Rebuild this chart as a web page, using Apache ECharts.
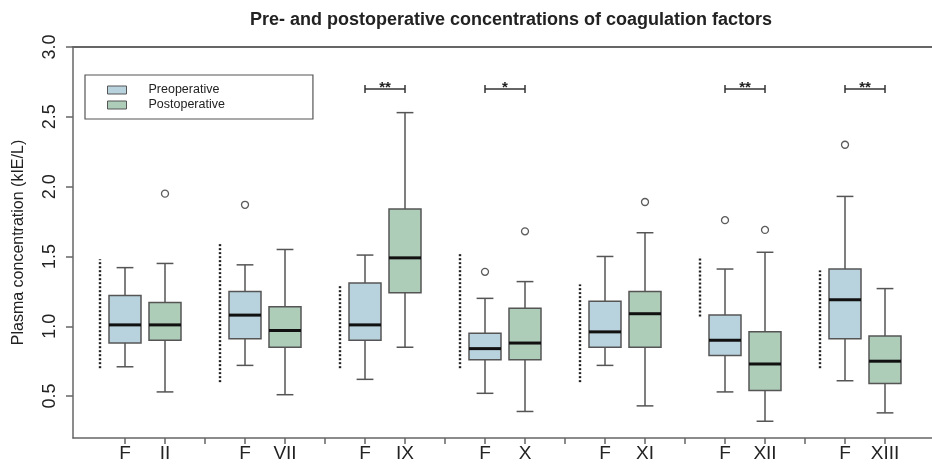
<!DOCTYPE html>
<html>
<head>
<meta charset="utf-8">
<script src="https://cdn.jsdelivr.net/npm/echarts@6/dist/echarts.min.js"></script>
<style>
  html, body { margin: 0; padding: 0; background: #fff; }
  #chart { width: 932px; height: 468px; }
</style>
</head>
<body>
<div id="chart"></div>
<script>
// factor names (second box of every pair; the first one is always "F")
const groupLabels = ['II', 'VII', 'IX', 'X', 'XI', 'XII', 'XIII'];

// [lower whisker, Q1, median, Q3, upper whisker]
const preStats = [
    [0.71, 0.88, 1.01, 1.22, 1.42],
    [0.72, 0.91, 1.08, 1.25, 1.44],
    [0.62, 0.90, 1.01, 1.31, 1.51],
    [0.52, 0.76, 0.84, 0.95, 1.20],
    [0.72, 0.85, 0.96, 1.18, 1.50],
    [0.53, 0.79, 0.90, 1.08, 1.41],
    [0.61, 0.91, 1.19, 1.41, 1.93]
];
const postStats = [
    [0.53, 0.90, 1.01, 1.17, 1.45],
    [0.51, 0.85, 0.97, 1.14, 1.55],
    [0.85, 1.24, 1.49, 1.84, 2.53],
    [0.39, 0.76, 0.88, 1.13, 1.32],
    [0.43, 0.85, 1.09, 1.25, 1.67],
    [0.32, 0.54, 0.73, 0.96, 1.53],
    [0.38, 0.59, 0.75, 0.93, 1.27]
];

// outliers: [group index, value]
const preOutliers = [[1, 1.87], [3, 1.39], [5, 1.76], [6, 2.30]];
const postOutliers = [[0, 1.95], [3, 1.68], [4, 1.89], [5, 1.69]];

// reference range (dotted line left of each pair): [low, high]
const refRanges = [
    [0.70, 1.48], [0.60, 1.60], [0.70, 1.30], [0.70, 1.52],
    [0.60, 1.30], [1.07, 1.50], [0.70, 1.40]
];

// significance markers: group index + label
const sigGroups = [2, 3, 5, 6];
const sigLabels = ['**', '*', '**', '**'];
const sigLevel = 2.7;

const yTicks = [0.5, 1.0, 1.5, 2.0, 2.5, 3.0];

const FONT = '"Liberation Sans", Arial, Helvetica, sans-serif';
const preColor = '#b8d3de';
const postColor = '#aecdb9';
const lineColor = '#555';
const axisColor = '#666';

// position of a box on the x axis: 3 slots per group (F, factor, separator)
const prePos = g => 3 * g;
const postPos = g => 3 * g + 1;

const xTicks = [];
const xLabelPos = [];
groupLabels.forEach((l, g) => {
    xTicks.push(prePos(g), postPos(g));
    xLabelPos.push(prePos(g), postPos(g));
    if (g < groupLabels.length - 1) xTicks.push(3 * g + 2);
});

const preData = preStats.map((s, g) => [prePos(g)].concat(s));
const postData = postStats.map((s, g) => [postPos(g)].concat(s));

function renderBox(params, api) {
    const x = api.value(0);
    const lo = api.coord([x, api.value(1)]);
    const q1 = api.coord([x, api.value(2)]);
    const md = api.coord([x, api.value(3)]);
    const q3 = api.coord([x, api.value(4)]);
    const hi = api.coord([x, api.value(5)]);
    const half = api.size([0.8, 0])[0] / 2;
    const cap = api.size([0.42, 0])[0] / 2;
    const color = api.visual('color');
    const lineStyle = { stroke: lineColor, lineWidth: 1.5 };
    return {
        type: 'group',
        children: [
            { type: 'line', shape: { x1: lo[0], y1: lo[1], x2: q1[0], y2: q1[1] }, style: lineStyle },
            { type: 'line', shape: { x1: q3[0], y1: q3[1], x2: hi[0], y2: hi[1] }, style: lineStyle },
            { type: 'line', shape: { x1: lo[0] - cap, y1: lo[1], x2: lo[0] + cap, y2: lo[1] }, style: lineStyle },
            { type: 'line', shape: { x1: hi[0] - cap, y1: hi[1], x2: hi[0] + cap, y2: hi[1] }, style: lineStyle },
            {
                type: 'rect',
                shape: { x: q3[0] - half, y: q3[1], width: half * 2, height: q1[1] - q3[1] },
                style: { fill: color, stroke: lineColor, lineWidth: 1.5 }
            },
            { type: 'line', shape: { x1: md[0] - half, y1: md[1], x2: md[0] + half, y2: md[1] }, style: { stroke: '#111', lineWidth: 3 } }
        ]
    };
}

let myChart = echarts.init(document.getElementById('chart'));
let option;

option = {
    animation: false,
    title: {
        text: 'Pre- and postoperative concentrations of coagulation factors',
        left: 506,
        textAlign: 'center',
        top: 6,
        textStyle: { fontFamily: FONT, fontSize: 18, fontWeight: 'bold', color: '#222' }
    },
    legend: {
        left: 85,
        top: 75,
        orient: 'vertical',
        data: [
            { name: 'Preoperative', itemStyle: { color: preColor, borderColor: lineColor, borderWidth: 1 } },
            { name: 'Postoperative', itemStyle: { color: postColor, borderColor: lineColor, borderWidth: 1 } }
        ],
        icon: 'rect',
        itemWidth: 19,
        itemHeight: 8,
        itemGap: 1,
        padding: [8, 88, 7, 22],
        borderColor: lineColor,
        borderWidth: 1.2,
        selectedMode: false,
        textStyle: { fontFamily: FONT, fontSize: 12.5, color: '#222', padding: [0, 0, 0, 17], lineHeight: 14 }
    },
    grid: { left: 73, right: 0, top: 47, bottom: 30 },
    xAxis: [
        {
            type: 'value',
            min: -1.3,
            max: 20.175,
            position: 'bottom',
            axisLine: { onZero: false, lineStyle: { color: axisColor, width: 1.5 } },
            axisTick: { customValues: xTicks, length: 6, lineStyle: { color: axisColor, width: 1.5 } },
            axisLabel: {
                customValues: xLabelPos,
                margin: 6,
                fontFamily: FONT,
                fontSize: 19,
                color: '#222',
                formatter: v => {
                    const i = Math.round(v);
                    return i % 3 === 0 ? 'F' : groupLabels[Math.floor(i / 3)];
                }
            },
            splitLine: { show: false }
        },
        {
            type: 'value',
            min: -1.3,
            max: 20.175,
            position: 'top',
            axisLine: { show: true, onZero: false, lineStyle: { color: axisColor, width: 2 } },
            axisTick: { show: false },
            axisLabel: { show: false },
            splitLine: { show: false }
        }
    ],
    yAxis: {
        type: 'value',
        min: 0.2,
        max: 3.0,
        name: 'Plasma concentration (kIE/L)',
        nameLocation: 'middle',
        nameGap: 46,
        nameRotate: 90,
        nameTextStyle: { fontFamily: FONT, fontSize: 16, color: '#222' },
        axisLine: { show: true, onZero: false, lineStyle: { color: axisColor, width: 1.5 } },
        axisTick: { show: true, customValues: yTicks, length: 7, lineStyle: { color: axisColor, width: 1.5 } },
        axisLabel: {
            customValues: yTicks,
            rotate: 90,
            margin: 14,
            fontFamily: FONT,
            fontSize: 18,
            color: '#222',
            formatter: v => v.toFixed(1)
        },
        splitLine: { show: false }
    },
    series: [
        {
            name: 'Preoperative',
            type: 'custom',
            itemStyle: { color: preColor },
            encode: { x: 0, y: [1, 2, 3, 4, 5] },
            renderItem: renderBox,
            data: preData,
            z: 3
        },
        {
            name: 'Postoperative',
            type: 'custom',
            itemStyle: { color: postColor },
            encode: { x: 0, y: [1, 2, 3, 4, 5] },
            renderItem: renderBox,
            data: postData,
            z: 3
        },
        {
            name: 'outliers',
            type: 'scatter',
            symbol: 'circle',
            symbolSize: 7,
            itemStyle: { color: '#fff', borderColor: '#333', borderWidth: 1.3 },
            data: preOutliers.map(o => [prePos(o[0]), o[1]])
                .concat(postOutliers.map(o => [postPos(o[0]), o[1]])),
            z: 4
        },
        {
            name: 'reference',
            type: 'custom',
            encode: { x: 0, y: [1, 2] },
            data: refRanges.map((r, g) => [prePos(g) - 0.625, r[0], r[1]]),
            renderItem: (params, api) => {
                const a = api.coord([api.value(0), api.value(1)]);
                const b = api.coord([api.value(0), api.value(2)]);
                return {
                    type: 'line',
                    shape: { x1: a[0], y1: a[1], x2: b[0], y2: b[1] },
                    style: { stroke: '#222', lineWidth: 2.4, lineDash: [2, 2] }
                };
            }
        },
        {
            name: 'significance',
            type: 'custom',
            encode: { x: [0, 1], y: 2 },
            data: sigGroups.map(g => [prePos(g), postPos(g), sigLevel]),
            renderItem: (params, api) => {
                const a = api.coord([api.value(0), api.value(2)]);
                const b = api.coord([api.value(1), api.value(2)]);
                const st = { stroke: '#333', lineWidth: 1.5 };
                return {
                    type: 'group',
                    children: [
                        { type: 'line', shape: { x1: a[0], y1: a[1], x2: b[0], y2: b[1] }, style: st },
                        { type: 'line', shape: { x1: a[0], y1: a[1] - 4, x2: a[0], y2: a[1] + 4 }, style: st },
                        { type: 'line', shape: { x1: b[0], y1: b[1] - 4, x2: b[0], y2: b[1] + 4 }, style: st },
                        {
                            type: 'text',
                            style: {
                                text: sigLabels[params.dataIndex],
                                x: (a[0] + b[0]) / 2,
                                y: a[1] - 9,
                                align: 'center',
                                verticalAlign: 'top',
                                font: 'bold 15px ' + FONT,
                                fill: '#222'
                            }
                        }
                    ]
                };
            }
        }
    ]
};

option && myChart.setOption(option);
</script>
</body>
</html>
